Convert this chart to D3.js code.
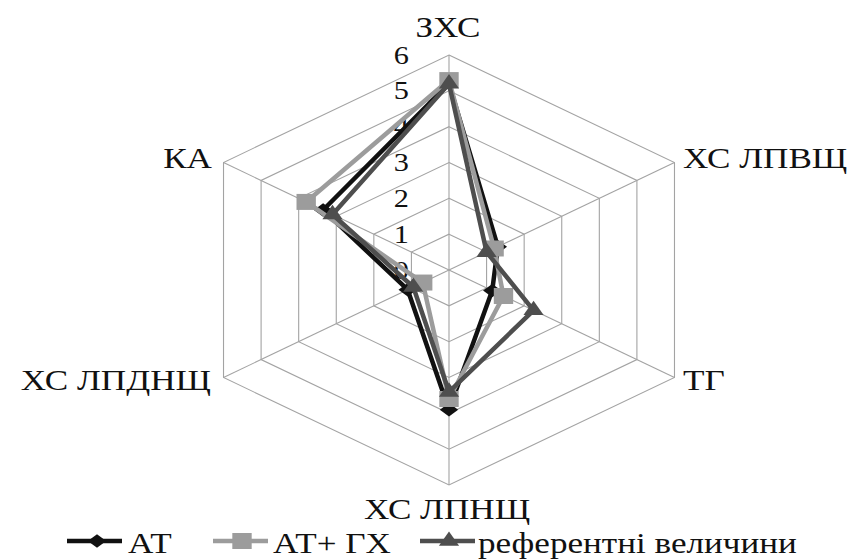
<!DOCTYPE html>
<html>
<head>
<meta charset="utf-8">
<script src="https://cdn.jsdelivr.net/npm/d3@7"></script>
<style>
  html, body { margin: 0; padding: 0; background: #fff; }
  svg { display: block; }
</style>
</head>
<body>
<svg id="chart" width="856" height="559"></svg>
<script>
// ---- data ----
const axes = ["ЗХС", "ХС ЛПВЩ", "ТГ", "ХС ЛПНЩ", "ХС ЛПДНЩ", "КА"];
const seriesNames = ["АТ", "АТ+ ГХ", "референтні величини"];
const valuesAT = [5.2, 1.3, 1.15, 3.9, 1.1, 3.35];
const valuesATGX = [5.3, 1.2, 1.45, 3.6, 0.7, 3.8];
const valuesRef = [5.2, 1.0, 2.25, 3.4, 0.95, 3.1];
const ticks = [0, 1, 2, 3, 4, 5, 6];

// ---- layout ----
const SX = 1.211;            // horizontal stretch of the original picture
const cx = 449, cy = 270;
const R = 215;
const FONT = "Liberation Serif";

const svg = d3.select("#chart");

const r = d3.scaleLinear().domain([0, 6]).range([0, R]);
const ang = d3.scaleLinear().domain([0, axes.length]).range([0, 2 * Math.PI]);
const px = (i, v) => cx + SX * Math.sin(ang(i)) * r(v);
const py = (i, v) => cy - Math.cos(ang(i)) * r(v);

const gridColor = "#a3a3a3";

const poly = d3.line()
  .x((d, i) => px(i, d))
  .y((d, i) => py(i, d))
  .curve(d3.curveLinearClosed);

svg.selectAll("path.ring")
  .data(ticks.filter(t => t > 0))
  .join("path")
  .attr("class", "ring")
  .attr("d", t => poly(axes.map(() => t)))
  .attr("fill", "none")
  .attr("stroke", gridColor)
  .attr("stroke-width", 1.1);

svg.selectAll("line.spoke")
  .data(axes)
  .join("line")
  .attr("class", "spoke")
  .attr("x1", cx).attr("y1", cy)
  .attr("x2", (d, i) => px(i, 6))
  .attr("y2", (d, i) => py(i, 6))
  .attr("stroke", gridColor)
  .attr("stroke-width", 1.1);

// stretched text helper (glyphs widened like the original picture)
function stretch(sel) {
  sel.each(function () {
    const w = this.getComputedTextLength();
    if (w > 0) {
      d3.select(this)
        .attr("textLength", w * SX)
        .attr("lengthAdjust", "spacingAndGlyphs");
    }
  });
}

// tick labels
svg.selectAll("text.tick")
  .data(ticks)
  .join("text")
  .attr("class", "tick")
  .attr("x", 409)
  .attr("y", t => cy - r(t) + 8.5)
  .attr("text-anchor", "end")
  .attr("font-family", FONT)
  .attr("font-size", 25)
  .attr("fill", "#111")
  .text(t => t)
  .call(stretch);

// axis labels
const labelPos = [
  { x: 448, y: 37, anchor: "middle" },
  { x: 683, y: 168, anchor: "start" },
  { x: 683, y: 390, anchor: "start" },
  { x: 447, y: 519, anchor: "middle" },
  { x: 211, y: 390, anchor: "end" },
  { x: 212, y: 168, anchor: "end" }
];
svg.selectAll("text.axis")
  .data(axes)
  .join("text")
  .attr("class", "axis")
  .attr("x", (d, i) => labelPos[i].x)
  .attr("y", (d, i) => labelPos[i].y)
  .attr("text-anchor", (d, i) => labelPos[i].anchor)
  .attr("font-family", FONT)
  .attr("font-size", 29)
  .attr("fill", "#111")
  .text(d => d)
  .call(stretch);

// series
const diamond = {
  draw(ctx, size) {
    const h = Math.sqrt(size / 2);
    ctx.moveTo(0, -h * 0.88);
    ctx.lineTo(h, 0);
    ctx.lineTo(0, h * 0.88);
    ctx.lineTo(-h, 0);
    ctx.closePath();
  }
};
const series = [
  { name: seriesNames[0], values: valuesAT, color: "#111111", symbol: diamond, size: 115 },
  { name: seriesNames[1], values: valuesATGX, color: "#9c9c9c", symbol: d3.symbolSquare, size: 256 },
  { name: seriesNames[2], values: valuesRef, color: "#4e4e4e", symbol: d3.symbolTriangle, size: 120 }
];

series.forEach(s => {
  const g = svg.append("g");
  g.append("path")
    .attr("d", poly(s.values))
    .attr("fill", "none")
    .attr("stroke", s.color)
    .attr("stroke-width", 4.5)
    .attr("stroke-linejoin", "round");
  g.selectAll("path.mk")
    .data(s.values)
    .join("path")
    .attr("class", "mk")
    .attr("transform", (v, i) => `translate(${px(i, v)},${py(i, v)}) scale(${SX},1)`)
    .attr("d", d3.symbol(s.symbol, s.size))
    .attr("fill", s.color);
});

// legend
const legendItems = [
  { lx1: 67, lx2: 122, mx: 97, tx: 128 },
  { lx1: 213, lx2: 268, mx: 242, tx: 273 },
  { lx1: 420, lx2: 475, mx: 449, tx: 478 }
];
const legendY = 541;
const lg = svg.append("g");
series.forEach((s, i) => {
  const p = legendItems[i];
  lg.append("line")
    .attr("x1", p.lx1).attr("x2", p.lx2)
    .attr("y1", legendY).attr("y2", legendY)
    .attr("stroke", s.color)
    .attr("stroke-width", 4.5);
  lg.append("path")
    .attr("transform", `translate(${p.mx},${legendY}) scale(${SX},1)`)
    .attr("d", d3.symbol(s.symbol, s.size))
    .attr("fill", s.color);
  lg.append("text")
    .attr("x", p.tx)
    .attr("y", 553)
    .attr("font-family", FONT)
    .attr("font-size", 29)
    .attr("fill", "#111")
    .text(s.name)
    .call(stretch);
});
</script>
</body>
</html>
